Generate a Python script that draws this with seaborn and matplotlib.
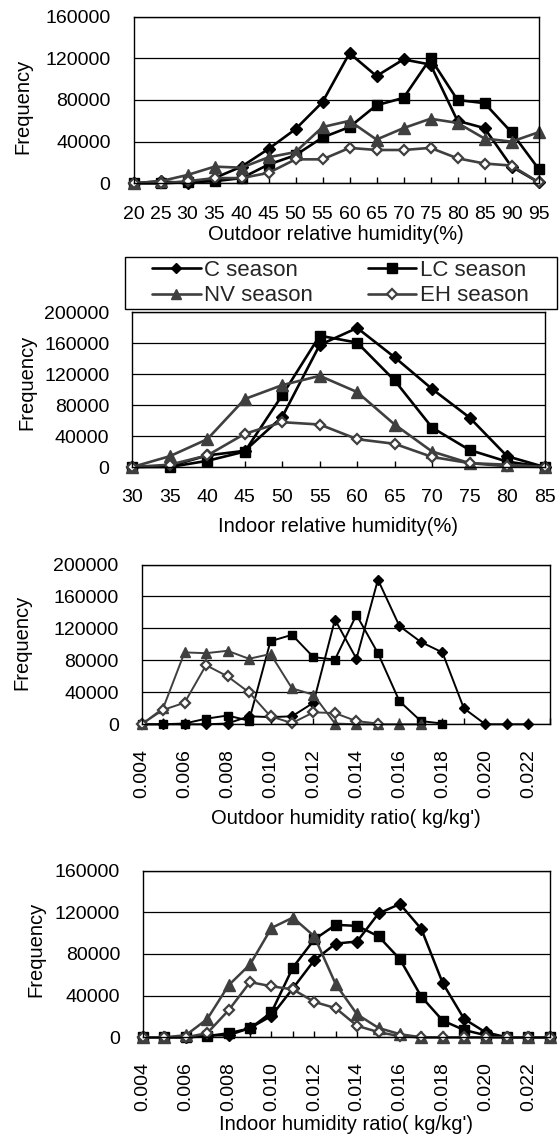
import numpy as np
import matplotlib
matplotlib.use("Agg")
import matplotlib.pyplot as plt
from matplotlib.patches import Rectangle
import seaborn as sns

nan = np.nan

# ---------------- data ----------------
series_names = ["C season", "LC season", "NV season", "EH season"]

out_rh_x = [20, 25, 30, 35, 40, 45, 50, 55, 60, 65, 70, 75, 80, 85, 90, 95]
out_rh_C = [0, 2000, 0, 5000, 16000, 33000, 52000, 78000, 125000, 103000, 119000, 114000, 60000, 53000, 16000, 1000]
out_rh_LC = [0, 0, 1000, 2000, 5000, 18000, 27000, 44000, 54000, 75000, 82000, 120000, 80000, 77000, 49000, 14000]
out_rh_NV = [0, 2000, 8000, 16000, 15000, 25000, 30000, 54000, 60000, 42000, 53000, 62000, 58000, 43000, 40000, 49000]
out_rh_EH = [0, 0, 2000, 5000, 5000, 10000, 23000, 23000, 34000, 32000, 32000, 34000, 24000, 19000, 17000, 1000]

in_rh_x = [30, 35, 40, 45, 50, 55, 60, 65, 70, 75, 80, 85]
in_rh_C = [0, 1000, 15000, 21000, 65000, 158000, 180000, 142000, 101000, 64000, 14000, 0]
in_rh_LC = [0, 0, 8000, 20000, 93000, 170000, 161000, 112000, 51000, 22000, 7000, 0]
in_rh_NV = [0, 14000, 36000, 88000, 106000, 118000, 97000, 55000, 20000, 5000, 3000, 0]
in_rh_EH = [0, 3000, 15000, 43000, 58000, 55000, 36000, 30000, 13000, 5000, 1000, 0]

hr_x = [0.004, 0.005, 0.006, 0.007, 0.008, 0.009, 0.010, 0.011, 0.012, 0.013,
        0.014, 0.015, 0.016, 0.017, 0.018, 0.019, 0.020, 0.021, 0.022, 0.023]
hr_tick_labels = ["0.004", "", "0.006", "", "0.008", "", "0.010", "", "0.012", "",
                  "0.014", "", "0.016", "", "0.018", "", "0.020", "", "0.022", ""]

out_hr_C = [0, 0, 0, 0, 1000, 10000, 9000, 10000, 27000, 131000, 82000, 181000, 123000, 103000, 90000, 20000, 0, 0, 0, nan]
out_hr_LC = [0, 0, 1000, 7000, 11000, 4500, 104000, 112000, 84000, 81000, 137000, 89000, 29000, 4000, 1000, nan, nan, nan, nan, nan]
out_hr_NV = [0, 20000, 90000, 89000, 92000, 82000, 88000, 45000, 37000, 1000, 0, 0, 0, 0, nan, nan, nan, nan, nan, nan]
out_hr_EH = [0, 18000, 27000, 74000, 60000, 40000, 10000, 1500, 15000, 14000, 4000, 1000, nan, nan, nan, nan, nan, nan, nan, nan]

in_hr_C = [0, 0, 0, 2000, 2000, 9000, 20500, 47000, 74000, 90000, 92000, 119000, 128000, 104000, 52000, 17600, 4800, 0, 0, 0]
in_hr_LC = [0, 0, 0, 1000, 4000, 8500, 24000, 67000, 94000, 108000, 107000, 97000, 75000, 39000, 16000, 7000, 2000, 0, 0, 0]
in_hr_NV = [0, 0, 2000, 17500, 50000, 70000, 105000, 115000, 97000, 51000, 22000, 9000, 3000, 0, 0, 0, 0, 0, 0, 0]
in_hr_EH = [0, 0, 0, 4000, 26000, 53000, 49000, 46000, 34000, 28000, 11000, 5000, 1000, 0, 0, 0, 0, 0, 0, 0]

# ---------------- style ----------------
sns.set_theme(style="white")
plt.rcParams['font.family'] = ['Liberation Sans', 'DejaVu Sans']

W, H = 559, 1136
fig = plt.figure(figsize=(W / 100, H / 100), dpi=100)
fig.patch.set_facecolor("white")

GRAY = "#3f3f3f"
styles = {
    "C season": dict(color="black", marker="D", markersize=6, markerfacecolor="black",
                     markeredgecolor="black", markeredgewidth=1.0),
    "LC season": dict(color="black", marker="s", markersize=7.5, markerfacecolor="black",
                      markeredgecolor="black", markeredgewidth=1.0),
    "NV season": dict(color=GRAY, marker="^", markersize=8, markerfacecolor=GRAY,
                      markeredgecolor=GRAY, markeredgewidth=1.0),
    "EH season": dict(color=GRAY, marker="D", markersize=5.5, markerfacecolor="white",
                      markeredgecolor=GRAY, markeredgewidth=1.6),
}

TICK_FS = 14
LABEL_FS = 14.5


def add_ax(l, r, t, b):
    return fig.add_axes([l / W, 1 - b / H, (r - l) / W, (b - t) / H])


def draw_panel(ax, x, ys, ymax, xlabel, xticklabels, rot, lw, ms_scale,
               ylab_x, ylab_y, xlab_y, xpad):
    for name, y in zip(series_names, ys):
        st = dict(styles[name])
        st["markersize"] = st["markersize"] * ms_scale
        sns.lineplot(x=x, y=y, ax=ax, label=name, estimator=None, sort=False,
                     linewidth=lw, clip_on=False, **st)
    if ax.get_legend() is not None:
        ax.get_legend().remove()
    ax.set_xlim(x[0], x[-1])
    ax.set_ylim(0, ymax)
    ax.set_yticks(np.arange(0, ymax + 1, 40000))
    ax.set_yticklabels([str(int(v)) for v in np.arange(0, ymax + 1, 40000)])
    ax.set_xticks(x)
    ax.set_xticklabels(xticklabels, rotation=rot)
    ax.set_axisbelow(True)
    ax.grid(axis="y", color="black", linewidth=0.9)
    ax.grid(axis="x", visible=False)
    for s in ax.spines.values():
        s.set_visible(True)
        s.set_color("black")
        s.set_linewidth(1.0)
    ax.tick_params(axis="x", direction="in", length=4, width=1, color="black",
                   pad=xpad, labelsize=TICK_FS, labelcolor="black", bottom=True)
    ax.tick_params(axis="y", length=0, pad=16.5, labelsize=TICK_FS, labelcolor="black")
    ax.set_ylabel("Frequency", fontsize=LABEL_FS, color="black")
    ax.yaxis.set_label_coords(ylab_x, ylab_y)
    ax.yaxis.label.set_va("center")
    ax.set_xlabel(xlabel, fontsize=LABEL_FS, color="black")
    ax.xaxis.set_label_coords(0.5, xlab_y)
    ax.xaxis.label.set_va("center")


# Panel 1: outdoor RH
l, r, t, b = 133.5, 538.5, 16.7, 183.3
ax1 = add_ax(l, r, t, b)
draw_panel(ax1, out_rh_x, [out_rh_C, out_rh_LC, out_rh_NV, out_rh_EH], 160000,
           "Outdoor relative humidity(%)", [str(v) for v in out_rh_x], 0, 1.9, 1.0,
           (23 - l) / (r - l), 1 - (106 - t) / (b - t), -(235 - b) / (b - t), 16)

# Panel 2: indoor RH
l, r, t, b = 132.4, 544.5, 312.5, 467.0
ax2 = add_ax(l, r, t, b)
draw_panel(ax2, in_rh_x, [in_rh_C, in_rh_LC, in_rh_NV, in_rh_EH], 200000,
           "Indoor relative humidity(%)", [str(v) for v in in_rh_x], 0, 1.9, 1.0,
           (27 - l) / (r - l), 1 - (382 - t) / (b - t), -(526.7 - b) / (b - t), 16)

# Panel 3: outdoor humidity ratio
l, r, t, b = 141.6, 549.8, 564.5, 724.3
ax3 = add_ax(l, r, t, b)
draw_panel(ax3, hr_x, [out_hr_C, out_hr_LC, out_hr_NV, out_hr_EH], 200000,
           "Outdoor humidity ratio( kg/kg')", hr_tick_labels, 90, 1.4, 0.85,
           (22 - l) / (r - l), 1 - (642.5 - t) / (b - t), -(818.3 - b) / (b - t), 18)

# Panel 4: indoor humidity ratio
l, r, t, b = 143.0, 549.8, 870.7, 1037.3
ax4 = add_ax(l, r, t, b)
draw_panel(ax4, hr_x, [in_hr_C, in_hr_LC, in_hr_NV, in_hr_EH], 160000,
           "Indoor humidity ratio( kg/kg')", hr_tick_labels, 90, 1.8, 1.0,
           (35.6 - l) / (r - l), 1 - (949 - t) / (b - t), -(1125 - b) / (b - t), 18)

# Legend (frame drawn as a separate box)
handles, labels = ax2.get_legend_handles_labels()
order = [0, 2, 1, 3]
fig.legend([handles[i] for i in order], [labels[i] for i in order],
           loc="upper left", bbox_to_anchor=(152 / W, 1 - 260 / H),
           ncol=2, frameon=False, fontsize=16, handlelength=2.2,
           handletextpad=0.15, columnspacing=2.45, labelspacing=0.2,
           borderpad=0, borderaxespad=0, markerscale=0.9)
fig.patches.append(Rectangle((124.6 / W, 1 - 309 / H), (557 - 124.6) / W, (309 - 256.7) / H,
                             transform=fig.transFigure, fill=False, edgecolor="black",
                             linewidth=1.0, figure=fig))

fig.savefig("out.png", dpi=100, facecolor="white")
